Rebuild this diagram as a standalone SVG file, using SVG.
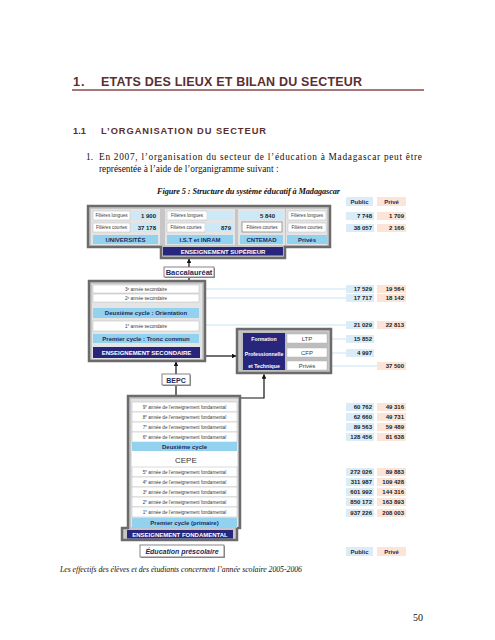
<svg xmlns="http://www.w3.org/2000/svg" width="495" height="640" viewBox="0 0 495 640">
<defs>
<marker id="ah" viewBox="0 0 10 10" refX="9" refY="5" markerWidth="4" markerHeight="4" orient="auto"><path d="M0,0 L10,5 L0,10 z" fill="#111"/></marker>
<style>
.frame{fill:#c6c6c6;stroke:#6b6b6b;stroke-width:2.5}
.panel{fill:#e4e4e4}
.w{fill:#fff;stroke:#b8b8b8;stroke-width:0.5}
.lb{fill:#93d2ef}
.vb{fill:#cde8f7}
.nv{fill:#27267c}
.pub{fill:#d9ecf8}
.pri{fill:#fce5d6}
.box{fill:#fff;stroke:#666;stroke-width:0.8}
text{font-family:"Liberation Sans",Arial,sans-serif}
.sm{font-size:4.6px;fill:#3a3a3a;text-anchor:middle}
.sm2{font-size:6px;fill:#3a3a3a;text-anchor:middle}
.bl{font-size:6px;font-weight:bold;fill:#1c2a5c;text-anchor:middle}
.wh{font-size:6px;font-weight:bold;fill:#fff;text-anchor:middle}
.wh2{font-size:5.2px;font-weight:bold;fill:#fff;text-anchor:middle}
.num{font-size:6px;font-weight:bold;fill:#222;text-anchor:end}
.hd{font-size:6px;font-weight:bold;fill:#1c2a5c;text-anchor:middle}
.serif{font-family:"Liberation Serif","Times New Roman",serif}
.conn{stroke:#111;stroke-width:1.2;fill:none}
.hl{stroke:#bcdcf0;stroke-width:0.8}
</style>
</defs>
<rect width="495" height="640" fill="#fff"/>

<g id="header">
<text x="73" y="86" font-size="12.5" font-weight="bold" fill="#5c2e2e" letter-spacing="1">1.</text>
<text x="101" y="86" font-size="12.5" font-weight="bold" fill="#5c2e2e" textLength="261" lengthAdjust="spacing">ETATS DES LIEUX ET BILAN DU SECTEUR</text>
<line x1="72" y1="90" x2="424" y2="90" stroke="#8b4a4a" stroke-width="1.5"/>
<text x="73" y="134" font-size="9.3" font-weight="bold" fill="#5c2e2e">1.1</text>
<text x="101" y="134" font-size="9.3" font-weight="bold" fill="#5c2e2e" textLength="165" lengthAdjust="spacing">L’ORGANISATION DU SECTEUR</text>
<text class="serif" x="86" y="160" font-size="9.3" fill="#111">1.</text>
<text class="serif" x="99" y="160" font-size="9.3" fill="#111" textLength="323" lengthAdjust="spacing">En 2007, l’organisation du secteur de l’éducation à Madagascar peut être</text>
<text class="serif" x="99" y="172" font-size="9.3" fill="#111">représentée à l’aide de l’organigramme suivant :</text>
<text class="serif" x="157" y="194" font-size="8.3" font-weight="bold" font-style="italic" fill="#111" textLength="183" lengthAdjust="spacing">Figure 5 : Structure du système éducatif à Madagascar</text>
</g>

<g id="connectors">
<line class="hl" x1="205" y1="289" x2="346" y2="289"/>
<line class="hl" x1="205" y1="298" x2="346" y2="298"/>
<line class="hl" x1="205" y1="325" x2="346" y2="325"/>
<line class="hl" x1="331" y1="339" x2="346" y2="339"/>
<line class="hl" x1="331" y1="353" x2="346" y2="353"/>
<line class="hl" x1="331" y1="366" x2="377" y2="366"/>
<line class="conn" x1="189" y1="267" x2="189" y2="259" marker-end="url(#ah)"/>
<line class="conn" x1="189" y1="281" x2="189" y2="277"/>
<line class="conn" x1="176" y1="396" x2="176" y2="385"/>
<line class="conn" x1="176" y1="374" x2="176" y2="362" marker-end="url(#ah)"/>
<line class="conn" x1="205" y1="356" x2="236" y2="356" marker-end="url(#ah)"/>
<polyline class="conn" points="240,398 264,398 264,374.5" marker-end="url(#ah)"/>
<line class="conn" x1="170" y1="467" x2="170" y2="452.5" marker-end="url(#ah)"/>
</g>

<g id="superieur">
<path class="frame" d="M88,206 H330 V247 H285 V258 H161 V247 H88 Z"/>
<rect class="panel" x="91" y="209" width="69" height="36"/>
<rect class="panel" x="165" y="209" width="70" height="36"/>
<rect class="panel" x="238" y="209" width="47" height="36"/>
<rect class="panel" x="286" y="209" width="41" height="36"/>
<rect class="w" x="93" y="211" width="37" height="9"/><text class="sm" x="111.5" y="217.3">Filières longues</text>
<rect class="vb" x="131" y="211" width="27" height="9"/><text class="num" x="156" y="217.5">1 900</text>
<rect class="w" x="93" y="223" width="37" height="9"/><text class="sm" x="111.5" y="229.3">Filières courtes</text>
<rect class="vb" x="131" y="223" width="27" height="9"/><text class="num" x="156" y="229.5">37 178</text>
<rect class="lb" x="93" y="235" width="65" height="9"/><text class="bl" x="125.5" y="241.5">UNIVERSITÉS</text>
<rect class="w" x="167" y="211" width="40" height="9"/><text class="sm" x="187" y="217.3">Filières longues</text>
<rect class="vb" x="207" y="211" width="26" height="9"/>
<rect class="w" x="167" y="223" width="38" height="9"/><text class="sm" x="186" y="229.3">Filières courtes</text>
<rect class="vb" x="205" y="223" width="28" height="9"/><text class="num" x="231" y="229.5">879</text>
<rect class="lb" x="167" y="235" width="66" height="9"/><text class="bl" x="200" y="241.5">I.S.T et INRAM</text>
<rect class="vb" x="240" y="211" width="43" height="9"/><text class="num" x="275" y="217.5">5 840</text>
<rect x="242" y="222" width="40" height="10" fill="#fff" stroke="#888" stroke-width="0.8"/><text class="sm" x="262" y="229">Filières courtes</text>
<rect class="lb" x="240" y="235" width="43" height="9"/><text class="bl" x="261.5" y="241.5">CNTEMAD</text>
<rect class="w" x="288" y="211" width="38" height="9"/><text class="sm" x="307" y="217.3">Filières longues</text>
<rect class="w" x="288" y="223" width="38" height="9"/><text class="sm" x="307" y="229.3">Filières courtes</text>
<rect class="lb" x="287" y="235" width="40" height="9"/><text class="bl" x="307" y="241.5">Privés</text>
<rect class="nv" x="163" y="247" width="120" height="8.5"/><text class="wh" x="223" y="253.6">ENSEIGNEMENT SUPÉRIEUR</text>
</g>

<g id="baccalaureat">
<rect x="165" y="268" width="50" height="10" fill="#999"/>
<rect class="box" x="164" y="267" width="50" height="10"/>
<text x="189" y="275" font-size="7.5" font-weight="bold" fill="#1c2a5c" text-anchor="middle">Baccalauréat</text>
</g>

<g id="secondaire">
<rect class="frame" x="89" y="281" width="116" height="80"/>
<rect class="panel" x="92" y="284" width="110" height="75"/>
<rect class="w" x="93" y="285" width="106" height="8"/><text class="sm" x="146" y="291"><tspan>3</tspan><tspan font-size="3" dy="-1.5">e</tspan><tspan dy="1.5"> année secondaire</tspan></text>
<rect class="w" x="93" y="294" width="106" height="8"/><text class="sm" x="146" y="300"><tspan>2</tspan><tspan font-size="3" dy="-1.5">e</tspan><tspan dy="1.5"> année secondaire</tspan></text>
<rect class="lb" x="93" y="308" width="106" height="10"/><text class="bl" x="146" y="315.2">Deuxième cycle : Orientation</text>
<rect class="w" x="93" y="321" width="106" height="10"/><text class="sm" x="146" y="327.8"><tspan>1</tspan><tspan font-size="3" dy="-1.5">e</tspan><tspan dy="1.5"> année secondaire</tspan></text>
<rect class="lb" x="93" y="334" width="106" height="9"/><text class="bl" x="146" y="340.7">Premier cycle : Tronc commun</text>
<rect class="nv" x="93" y="347" width="107" height="11"/><text class="wh" x="146.5" y="354.6">ENSEIGNEMENT SECONDAIRE</text>
</g>

<g id="formation">
<rect class="frame" x="237" y="329" width="94" height="44"/>
<rect fill="#bdbdbd" x="241" y="332" width="87" height="39"/>
<rect class="nv" x="243" y="333" width="42" height="37"/>
<text class="wh2" x="264" y="341">Formation</text>
<text class="wh2" x="264" y="356">Professionnelle</text>
<text class="wh2" x="264" y="368">et Technique</text>
<rect class="w" x="287" y="334" width="40" height="9"/><text class="sm2" x="307" y="341">LTP</text>
<rect class="w" x="287" y="348" width="40" height="9"/><text class="sm2" x="307" y="355">CFP</text>
<rect class="w" x="287" y="361" width="40" height="9"/><text class="sm2" x="307" y="368">Privés</text>
</g>

<g id="bepc">
<rect x="163" y="375" width="28" height="11" fill="#999"/>
<rect class="box" x="162" y="374" width="28" height="11"/>
<text x="176" y="382.5" font-size="7" font-weight="bold" fill="#1c2a5c" text-anchor="middle">BEPC</text>
</g>

<g id="fondamental">
<path class="frame" d="M128,396 H240 V528 H237 V540 H122 V528 H128 Z"/>
<rect class="panel" x="131" y="399" width="107" height="128"/>
<rect class="w" x="132" y="402" width="105" height="10"/><text class="sm" x="184.5" y="408.6"><tspan>9</tspan><tspan font-size="3" dy="-1.5">e</tspan><tspan dy="1.5"> année de l’enseignement fondamental</tspan></text>
<rect class="w" x="132" y="412" width="105" height="10"/><text class="sm" x="184.5" y="418.6"><tspan>8</tspan><tspan font-size="3" dy="-1.5">e</tspan><tspan dy="1.5"> année de l’enseignement fondamental</tspan></text>
<rect class="w" x="132" y="422" width="105" height="10"/><text class="sm" x="184.5" y="428.6"><tspan>7</tspan><tspan font-size="3" dy="-1.5">e</tspan><tspan dy="1.5"> année de l’enseignement fondamental</tspan></text>
<rect class="w" x="132" y="432" width="105" height="10"/><text class="sm" x="184.5" y="438.6"><tspan>6</tspan><tspan font-size="3" dy="-1.5">e</tspan><tspan dy="1.5"> année de l’enseignement fondamental</tspan></text>
<rect class="lb" x="132" y="442" width="105" height="9"/><text class="bl" x="184.5" y="448.8">Deuxième cycle</text>
<rect fill="#fff" x="132" y="451" width="105" height="16"/>
<text x="175" y="463" font-size="8" fill="#333">CEPE</text>
<rect class="w" x="132" y="467" width="105" height="10"/><text class="sm" x="184.5" y="473.6"><tspan>5</tspan><tspan font-size="3" dy="-1.5">e</tspan><tspan dy="1.5"> année de l’enseignement fondamental</tspan></text>
<rect class="w" x="132" y="477" width="105" height="10"/><text class="sm" x="184.5" y="483.6"><tspan>4</tspan><tspan font-size="3" dy="-1.5">e</tspan><tspan dy="1.5"> année de l’enseignement fondamental</tspan></text>
<rect class="w" x="132" y="487" width="105" height="10"/><text class="sm" x="184.5" y="493.6"><tspan>3</tspan><tspan font-size="3" dy="-1.5">e</tspan><tspan dy="1.5"> année de l’enseignement fondamental</tspan></text>
<rect class="w" x="132" y="497" width="105" height="10"/><text class="sm" x="184.5" y="503.6"><tspan>2</tspan><tspan font-size="3" dy="-1.5">e</tspan><tspan dy="1.5"> année de l’enseignement fondamental</tspan></text>
<rect class="w" x="132" y="507" width="105" height="10"/><text class="sm" x="184.5" y="513.6"><tspan>1</tspan><tspan font-size="3" dy="-1.5">e</tspan><tspan dy="1.5"> année de l’enseignement fondamental</tspan></text>
<rect class="lb" x="132" y="518" width="105" height="10"/><text class="bl" x="184.5" y="525.2">Premier cycle (primaire)</text>
<rect class="nv" x="127" y="530" width="106" height="8.5"/><text class="wh" x="180" y="536.6">ENSEIGNEMENT FONDAMENTAL</text>
</g>

<g id="prescolaire">
<rect x="141" y="546" width="84" height="12" fill="#999"/>
<rect class="box" x="140" y="545" width="84" height="12"/>
<text x="182" y="554" font-size="7" font-weight="bold" font-style="italic" fill="#1c2a5c" text-anchor="middle">Éducation préscolaire</text>
</g>

<g id="stats">
<rect class="pub" x="346" y="197" width="27" height="9"/><text class="hd" x="359.5" y="203.8">Public</text>
<rect class="pri" x="377" y="197" width="29" height="9"/><text class="hd" x="391.5" y="203.8">Privé</text>
<rect class="pub" x="346" y="212" width="28" height="8"/><text class="num" x="372" y="218.2">7 748</text>
<rect class="pri" x="377" y="212" width="29" height="8"/><text class="num" x="404" y="218.2">1 709</text>
<rect class="pub" x="346" y="224" width="28" height="8"/><text class="num" x="372" y="230.2">38 057</text>
<rect class="pri" x="377" y="224" width="29" height="8"/><text class="num" x="404" y="230.2">2 166</text>
<rect class="pub" x="346" y="285" width="28" height="8"/><text class="num" x="372" y="291.2">17 529</text>
<rect class="pri" x="377" y="285" width="29" height="8"/><text class="num" x="404" y="291.2">19 564</text>
<rect class="pub" x="346" y="294" width="28" height="8"/><text class="num" x="372" y="300.2">17 717</text>
<rect class="pri" x="377" y="294" width="29" height="8"/><text class="num" x="404" y="300.2">18 142</text>
<rect class="pub" x="346" y="321" width="28" height="8"/><text class="num" x="372" y="327.2">21 029</text>
<rect class="pri" x="377" y="321" width="29" height="8"/><text class="num" x="404" y="327.2">22 813</text>
<rect class="pub" x="346" y="335" width="28" height="8"/><text class="num" x="372" y="341.2">15 852</text>
<rect class="pub" x="346" y="349" width="28" height="8"/><text class="num" x="372" y="355.2">4 997</text>
<rect class="pri" x="377" y="362" width="29" height="8"/><text class="num" x="404" y="368.2">37 500</text>
<rect class="pub" x="346" y="403" width="28" height="8"/><text class="num" x="372" y="409.2">60 762</text>
<rect class="pri" x="377" y="403" width="29" height="8"/><text class="num" x="404" y="409.2">49 316</text>
<rect class="pub" x="346" y="413" width="28" height="8"/><text class="num" x="372" y="419.2">62 660</text>
<rect class="pri" x="377" y="413" width="29" height="8"/><text class="num" x="404" y="419.2">49 731</text>
<rect class="pub" x="346" y="423" width="28" height="8"/><text class="num" x="372" y="429.2">89 563</text>
<rect class="pri" x="377" y="423" width="29" height="8"/><text class="num" x="404" y="429.2">59 489</text>
<rect class="pub" x="346" y="433" width="28" height="8"/><text class="num" x="372" y="439.2">128 456</text>
<rect class="pri" x="377" y="433" width="29" height="8"/><text class="num" x="404" y="439.2">81 638</text>
<rect class="pub" x="346" y="468" width="28" height="8"/><text class="num" x="372" y="474.2">272 026</text>
<rect class="pri" x="377" y="468" width="29" height="8"/><text class="num" x="404" y="474.2">89 883</text>
<rect class="pub" x="346" y="478" width="28" height="8"/><text class="num" x="372" y="484.2">311 987</text>
<rect class="pri" x="377" y="478" width="29" height="8"/><text class="num" x="404" y="484.2">109 428</text>
<rect class="pub" x="346" y="488" width="28" height="8"/><text class="num" x="372" y="494.2">601 992</text>
<rect class="pri" x="377" y="488" width="29" height="8"/><text class="num" x="404" y="494.2">144 316</text>
<rect class="pub" x="346" y="498" width="28" height="8"/><text class="num" x="372" y="504.2">850 172</text>
<rect class="pri" x="377" y="498" width="29" height="8"/><text class="num" x="404" y="504.2">163 893</text>
<rect class="pub" x="346" y="509" width="28" height="8"/><text class="num" x="372" y="515.2">937 226</text>
<rect class="pri" x="377" y="509" width="29" height="8"/><text class="num" x="404" y="515.2">208 003</text>
<rect class="pub" x="346" y="547" width="27" height="9"/><text class="hd" x="359.5" y="553.8">Public</text>
<rect class="pri" x="377" y="547" width="29" height="9"/><text class="hd" x="391.5" y="553.8">Privé</text>
</g>

<g id="footer">
<text class="serif" x="60" y="572" font-size="7.8" font-style="italic" fill="#111" textLength="242" lengthAdjust="spacing">Les effectifs des élèves et des étudiants concernent l’année scolaire 2005-2006</text>
<text class="serif" x="413" y="621" font-size="10" fill="#111">50</text>
</g>
</svg>
